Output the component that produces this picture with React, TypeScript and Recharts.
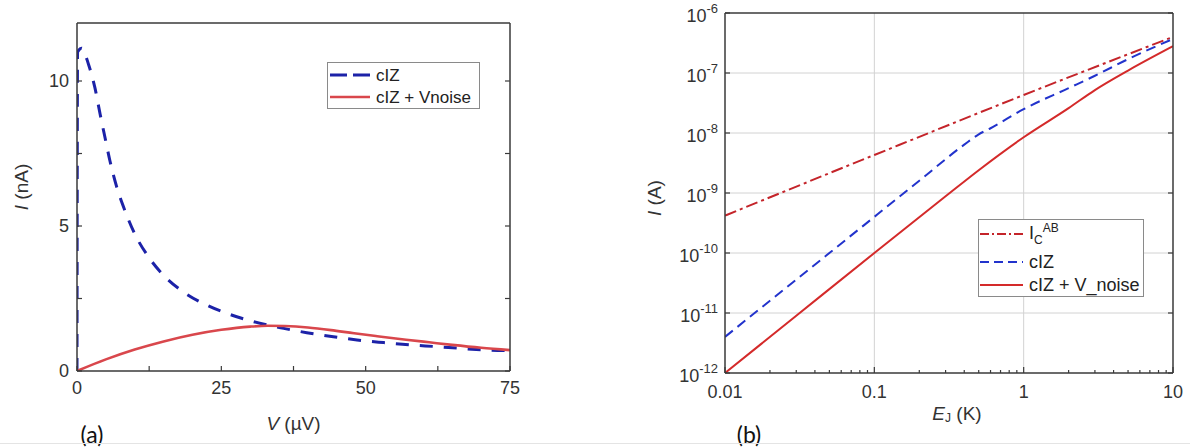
import React from "react";
import { LineChart, Line, XAxis, YAxis, ReferenceLine, Legend } from "recharts";

// ---- (a) linear I-V curves ----
const vIZ = [0, 0.1, 0.8, 2, 3.1, 4, 4.85, 5.7, 6.9, 8.3, 10, 12.4, 15, 18.4, 22.5, 26.5, 30.6, 35.8, 39.8, 44.4, 48.5, 53.1, 57.7, 62.3, 66.4, 71, 75];
const iIZ = [0, 11.0, 11.13, 10.57, 9.77, 8.86, 8.05, 7.25, 6.33, 5.53, 4.73, 3.93, 3.3, 2.73, 2.27, 1.95, 1.7, 1.47, 1.32, 1.18, 1.07, 0.98, 0.9, 0.84, 0.78, 0.72, 0.7];
const vNoise = [0, 5, 10, 15, 20, 25, 30, 33, 36, 40, 44, 48, 52, 57, 61, 65, 70, 75];
const iNoise = [0, 0.4, 0.74, 1.02, 1.25, 1.42, 1.53, 1.56, 1.55, 1.5, 1.41, 1.3, 1.2, 1.08, 0.99, 0.9, 0.8, 0.72];
const aXTicks = [0, 12.5, 25, 37.5, 50, 62.5, 75];
const aXLabels = [0, 25, 50, 75];
const aYTicks = [0, 2.5, 5, 7.5, 10];
const aYLabels = [0, 5, 10];

// ---- (b) log-log vs E_J ----
const eIC = [0.01, 0.1, 1, 10];
const iIC = [4.2e-10, 4.3e-9, 4.3e-8, 4.0e-7];
const eIZ = [0.01, 0.02, 0.05, 0.1, 0.2, 0.4, 0.5, 0.6, 1, 2, 3, 5, 10];
const iIZb = [4e-12, 1.6e-11, 1e-10, 4e-10, 1.6e-9, 6.4e-9, 9.5e-9, 1.2e-8, 2.5e-8, 5.6e-8, 9e-8, 1.7e-7, 3.7e-7];
const eNoise = [0.01, 0.03, 0.1, 0.3, 0.5, 1, 2, 3, 5, 10];
const iNoiseB = [1e-12, 9e-12, 1e-10, 8.8e-10, 2.4e-9, 8.5e-9, 2.6e-8, 5.2e-8, 1.1e-7, 2.8e-7];
const bXTicks = [0.01, 0.02, 0.03, 0.04, 0.05, 0.06, 0.07, 0.08, 0.09, 0.1, 0.2, 0.3, 0.4, 0.5, 0.6, 0.7, 0.8, 0.9, 1, 2, 3, 4, 5, 6, 7, 8, 9, 10];
const bXLabels = [0.01, 0.1, 1, 10];
const bYTicks = [1e-12, 1e-11, 1e-10, 1e-9, 1e-8, 1e-7, 1e-6];
const bGridX = [0.1, 1];
const bGridY = [1e-11, 1e-10, 1e-9, 1e-8, 1e-7];

const zip = (xs: number[], ys: number[]) => xs.map((x, i) => ({ x, y: ys[i] }));

const FONT = "'Liberation Sans', Arial, Helvetica, sans-serif";
const AXIS = "#3a3a3a";
const TXT = "#333";
const BLUE_A = "#1c22a8";
const RED_A = "#d9474c";
const BLUE_B = "#2233cc";
const RED_B = "#d42a2a";
const RED_DOT = "#c4242a";

const axisLine = { stroke: AXIS, strokeWidth: 1.5 };

// inward tick marks, labels only on majors
const bottomTick = (labels: number[], majorLen: number, minorLen: number, dy: number) => (p: any) => {
  const v = p.payload.value;
  const major = labels.includes(v);
  return (
    <g>
      <line x1={p.x} x2={p.x} y1={p.y} y2={p.y - (major ? majorLen : minorLen)} stroke={AXIS} strokeWidth={1.2} />
      {major && (
        <text x={p.x} y={p.y + dy} textAnchor="middle" dominantBaseline="central" fontFamily={FONT} fontSize={18} fill={TXT}>
          {String(v)}
        </text>
      )}
    </g>
  );
};

const topTick = (labels: number[], majorLen: number, minorLen: number) => (p: any) => {
  const major = labels.includes(p.payload.value);
  return <line x1={p.x} x2={p.x} y1={p.y} y2={p.y + (major ? majorLen : minorLen)} stroke={AXIS} strokeWidth={1.2} />;
};

const rightTick = (p: any) => <line x1={p.x} x2={p.x - 5} y1={p.y} y2={p.y} stroke={AXIS} strokeWidth={1.2} />;

const leftTickLin = (p: any) => {
  const v = p.payload.value;
  return (
    <g>
      <line x1={p.x} x2={p.x + 5} y1={p.y} y2={p.y} stroke={AXIS} strokeWidth={1.2} />
      {aYLabels.includes(v) && (
        <text x={p.x - 8} y={p.y} textAnchor="end" dominantBaseline="central" fontFamily={FONT} fontSize={18} fill={TXT}>
          {v}
        </text>
      )}
    </g>
  );
};

const leftTickLog = (p: any) => {
  const exp = Math.round(Math.log10(p.payload.value));
  return (
    <g>
      <line x1={p.x} x2={p.x + 5} y1={p.y} y2={p.y} stroke={AXIS} strokeWidth={1.2} />
      <text x={p.x - 7} y={p.y + 3} textAnchor="end" dominantBaseline="central" fontFamily={FONT} fontSize={18} fill={TXT}>
        10
        <tspan fontSize={13} dy={-8}>
          {exp}
        </tspan>
      </text>
    </g>
  );
};

const xTitleA = (props: any) => {
  const { x, y, width } = props.viewBox;
  return (
    <g>
      <text x={x + width / 2} y={y + 52} textAnchor="middle" dominantBaseline="central" fontFamily={FONT} fontSize={19} fill={TXT}>
        <tspan fontStyle="italic">V</tspan>
        {" (µV)"}
      </text>
      <text x={x + 15} y={y + 63} textAnchor="middle" dominantBaseline="central" fontFamily="Lato, 'Open Sans', sans-serif" fontSize={23} fill="#111">
        (a)
      </text>
    </g>
  );
};

const yTitleA = (props: any) => {
  const { x, y, height } = props.viewBox;
  const cx = x - 16;
  const cy = y + height / 2 - 10;
  return (
    <text x={cx} y={cy} transform={`rotate(-90 ${cx} ${cy})`} textAnchor="middle" dominantBaseline="central" fontFamily={FONT} fontSize={19} fill={TXT}>
      <tspan fontStyle="italic">I</tspan>
      {" (nA)"}
    </text>
  );
};

const xTitleB = (props: any) => {
  const { x, y, width } = props.viewBox;
  return (
    <g>
      <text x={x + width / 2 + 8} y={y + 40} textAnchor="middle" dominantBaseline="central" fontFamily={FONT} fontSize={19} fill={TXT}>
        <tspan fontStyle="italic">E</tspan>
        <tspan fontSize={12} dy={5}>J</tspan>
        <tspan dy={-5}>{" (K)"}</tspan>
      </text>
      <text x={x + 24} y={y + 61} textAnchor="middle" dominantBaseline="central" fontFamily="Lato, 'Open Sans', sans-serif" fontSize={23} fill="#111">
        (b)
      </text>
    </g>
  );
};

const yTitleB = (props: any) => {
  const { x, y, height } = props.viewBox;
  const cx = x - 11;
  const cy = y + height / 2 + 5;
  return (
    <text x={cx} y={cy} transform={`rotate(-90 ${cx} ${cy})`} textAnchor="middle" dominantBaseline="central" fontFamily={FONT} fontSize={19} fill={TXT}>
      <tspan fontStyle="italic">I</tspan>
      {" (A)"}
    </text>
  );
};

const LegendA = () => (
  <svg width={153} height={47} style={{ display: "block" }}>
    <rect x={0.5} y={0.5} width={152} height={46} fill="#fff" stroke="#8a8a8a" />
    <line x1={3} x2={43} y1={13} y2={13} stroke={BLUE_A} strokeWidth={3} strokeDasharray="17 6" />
    <text x={49} y={13} dominantBaseline="central" fontFamily={FONT} fontSize={17} fill="#222">cIZ</text>
    <line x1={3} x2={43} y1={35} y2={35} stroke={RED_A} strokeWidth={2.5} />
    <text x={49} y={35} dominantBaseline="central" fontFamily={FONT} fontSize={17} fill="#222">cIZ + Vnoise</text>
  </svg>
);

const LegendB = () => (
  <svg width={166} height={78} style={{ display: "block", overflow: "visible" }}>
    <rect x={0.5} y={0.5} width={165} height={77} fill="#fff" stroke="#8a8a8a" />
    <line x1={2} x2={45} y1={15} y2={15} stroke={RED_DOT} strokeWidth={2} strokeDasharray="9 3 2 3" />
    <text x={51} y={14} dominantBaseline="central" fontFamily={FONT} fontSize={18} fill="#222">
      I
      <tspan fontSize={12} dy={7}>C</tspan>
      <tspan fontSize={12} dy={-12}>AB</tspan>
    </text>
    <line x1={2} x2={45} y1={43} y2={43} stroke={BLUE_B} strokeWidth={2} strokeDasharray="9 5" />
    <text x={51} y={43} dominantBaseline="central" fontFamily={FONT} fontSize={18} fill="#222">cIZ</text>
    <line x1={2} x2={45} y1={66} y2={66} stroke={RED_B} strokeWidth={2} />
    <text x={51} y={66} dominantBaseline="central" fontFamily={FONT} fontSize={18} fill="#222">cIZ + V_noise</text>
  </svg>
);

const ChartA = () => (
  <LineChart width={560} height={448} margin={{ top: 22, right: 49, left: 37, bottom: 47 }}>
    <XAxis dataKey="x" type="number" domain={[0, 75]} ticks={aXTicks} interval={0} allowDataOverflow
      height={30} tickSize={0} tickMargin={0} axisLine={axisLine} tickLine={false}
      tick={bottomTick(aXLabels, 5, 5, 17)} label={xTitleA} />
    <XAxis xAxisId="top" orientation="top" type="number" domain={[0, 75]} ticks={aXTicks} interval={0} allowDataOverflow
      height={1} tickSize={0} tickMargin={0} axisLine={axisLine} tickLine={false} tick={topTick(aXTicks, 5, 5)} />
    <YAxis type="number" domain={[0, 12]} ticks={aYTicks} interval={0} allowDataOverflow width={40}
      tickSize={0} tickMargin={0} axisLine={axisLine} tickLine={false} tick={leftTickLin} label={yTitleA} />
    <YAxis yAxisId="right" orientation="right" type="number" domain={[0, 12]} ticks={aYTicks} interval={0} allowDataOverflow width={1}
      tickSize={0} tickMargin={0} axisLine={axisLine} tickLine={false} tick={rightTick} />
    <Legend layout="horizontal" verticalAlign="middle" align="center" content={() => <LegendA />}
      wrapperStyle={{ position: "absolute", left: 327, top: 62, width: 153, height: 47 }} />
    <Line data={zip(vIZ, iIZ)} dataKey="y" type="monotone" stroke={BLUE_A} strokeWidth={3} strokeDasharray="13 11"
      dot={false} activeDot={false} isAnimationActive={false} />
    <Line data={zip(vNoise, iNoise)} dataKey="y" type="monotone" stroke={RED_A} strokeWidth={2.6}
      dot={false} activeDot={false} isAnimationActive={false} />
  </LineChart>
);

const ChartB = () => (
  <LineChart width={550} height={448} margin={{ top: 12, right: 16, left: 25, bottom: 45 }}>
    <XAxis dataKey="x" type="number" scale="log" domain={[0.01, 10]} ticks={bXTicks} interval={0} allowDataOverflow
      height={30} tickSize={0} tickMargin={0} axisLine={axisLine} tickLine={false}
      tick={bottomTick(bXLabels, 6, 3, 19)} label={xTitleB} />
    <XAxis xAxisId="top" orientation="top" type="number" scale="log" domain={[0.01, 10]} ticks={bXTicks} interval={0} allowDataOverflow
      height={1} tickSize={0} tickMargin={0} axisLine={axisLine} tickLine={false} tick={topTick(bXLabels, 6, 3)} />
    <YAxis type="number" scale="log" domain={[1e-12, 1e-6]} ticks={bYTicks} interval={0} allowDataOverflow width={60}
      tickSize={0} tickMargin={0} axisLine={axisLine} tickLine={false} tick={leftTickLog} label={yTitleB} />
    <YAxis yAxisId="right" orientation="right" type="number" scale="log" domain={[1e-12, 1e-6]} ticks={bYTicks} interval={0} allowDataOverflow width={1}
      tickSize={0} tickMargin={0} axisLine={axisLine} tickLine={false} tick={rightTick} />
    {bGridX.map((g) => (
      <ReferenceLine key={`gx${g}`} x={g} stroke="#d2d2d2" strokeWidth={1} />
    ))}
    {bGridY.map((g) => (
      <ReferenceLine key={`gy${g}`} y={g} stroke="#d2d2d2" strokeWidth={1} />
    ))}
    <Legend layout="horizontal" verticalAlign="middle" align="center" content={() => <LegendB />}
      wrapperStyle={{ position: "absolute", left: 338, top: 219, width: 166, height: 78 }} />
    <Line data={zip(eIC, iIC)} dataKey="y" type="monotone" stroke={RED_DOT} strokeWidth={2} strokeDasharray="12 4 3 4"
      dot={false} activeDot={false} isAnimationActive={false} />
    <Line data={zip(eIZ, iIZb)} dataKey="y" type="monotone" stroke={BLUE_B} strokeWidth={2} strokeDasharray="10 6"
      dot={false} activeDot={false} isAnimationActive={false} />
    <Line data={zip(eNoise, iNoiseB)} dataKey="y" type="monotone" stroke={RED_B} strokeWidth={2}
      dot={false} activeDot={false} isAnimationActive={false} />
  </LineChart>
);

export default function App() {
  return (
    <div style={{ position: "absolute", left: 0, top: 0, width: 1190, height: 448, background: "#fff", overflow: "hidden" }}>
      <div style={{ position: "absolute", left: 0, top: 0 }}>
        <ChartA />
      </div>
      <div style={{ position: "absolute", left: 640, top: 0 }}>
        <ChartB />
      </div>
      <div style={{ position: "absolute", left: 0, top: 443, width: 1190, height: 1, background: "#e4e4e4" }} />
    </div>
  );
}
